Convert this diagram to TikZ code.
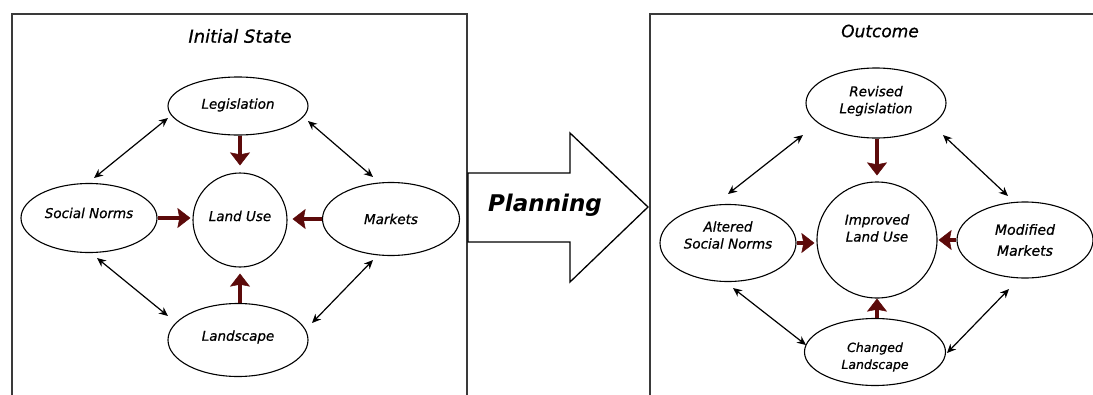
\documentclass[tikz,border=0pt]{standalone}
\usepackage{fontspec}
\setmainfont{DejaVu Sans}
\newfontfamily\lblfont[FakeBold=0.7]{DejaVu Sans}
\usetikzlibrary{shapes.geometric,arrows.meta}
\definecolor{maroonred}{HTML}{5C0A0A}
\definecolor{boxgray}{HTML}{3A3A3A}
\begin{document}
\begin{tikzpicture}[x=1pt,y=-1pt,
  ell/.style={draw, ellipse, line width=1.1pt, inner sep=0pt},
  lab/.style={font=\lblfont\fontsize{13.5}{17}\selectfont\itshape, align=center, inner sep=0pt},
  smalllab/.style={font=\lblfont\fontsize{12.5}{17}\selectfont\itshape, align=center, inner sep=0pt},
  redarr/.style={draw=maroonred, line width=3.5pt, -{Stealth[length=13pt,width=20pt,inset=2pt,line width=0.5pt]}},
  dblarr/.style={line width=1.2pt, {Stealth[length=9pt,width=8pt]}-{Stealth[length=9pt,width=8pt]}},
  ttl/.style={font=\lblfont\fontsize{17}{20}\selectfont\itshape, inner sep=0pt}
]
\useasboundingbox (0,0) rectangle (1093,394);
% frames
\draw[boxgray, line width=1.8pt] (12,400) -- (12,14) -- (467,14) -- (467,400);
\draw[boxgray, line width=1.8pt] (650,400) -- (650,14) -- (1100,14);

% ---------- left: initial state ----------
\node[ttl, font=\lblfont\fontsize{18}{20}\selectfont\itshape] (t1) at (240,36) {Initial State};
\node[ell, minimum width=140pt, minimum height=58pt, label={[lab,yshift=1pt]center:Legislation}] (leg) at (238,106) {};
\node[ell, circle, minimum size=94pt, label={[lab,yshift=4pt]center:Land Use}] (lu) at (240,220) {};
\node[ell, minimum width=136pt, minimum height=69pt, label={[lab,yshift=5pt]center:Social Norms}] (soc) at (89,218) {};
\node[ell, minimum width=137pt, minimum height=73pt, label={[lab,yshift=0pt]center:Markets}] (mkt) at (391,219) {};
\node[ell, minimum width=140pt, minimum height=73pt, label={[lab,yshift=3pt]center:Landscape}] (lsc) at (238,340) {};

\draw[redarr, shorten >=7pt] (leg.south -| lu.north) -- (lu.north);
\draw[redarr, shorten >=2pt] (soc.east) -- (soc.east -| lu.west);
\draw[redarr, shorten >=5pt] (mkt.west) -- (mkt.west -| lu.east);
\draw[redarr, shorten >=6pt] (lsc.north -| lu.south) -- (lu.south);

\draw[dblarr] ([shift={(-70,12)}]leg.center) -- ([shift={(5,-40)}]soc.center);
\draw[dblarr] ([shift={(70,15)}]leg.center) -- ([shift={(-18,-42)}]mkt.center);
\draw[dblarr] ([shift={(8,40)}]soc.center) -- ([shift={(-70,-24)}]lsc.center);
\draw[dblarr] ([shift={(-18,41)}]mkt.center) -- ([shift={(74,-17)}]lsc.center);

% ---------- planning arrow ----------
\draw[line width=1.3pt, fill=white] (468,173) -- (570,173) -- (570,133) -- (648,207) -- (570,282) -- (570,242) -- (468,242) -- cycle;
\node[font=\fontsize{23}{26}\selectfont\bfseries\itshape, inner sep=0pt] (plan) at (545,205) {Planning};

% ---------- right: outcome ----------
\node[ttl] (t2) at (880,31) {Outcome};
\node[ell, minimum width=140pt, minimum height=70pt, label={[lab,yshift=2pt]center:Revised\\Legislation}] (rleg) at (876,103) {};
\node[ell, minimum width=120pt, minimum height=116pt, label={[lab,yshift=12pt]center:Improved\\Land Use}] (ilu) at (877,240) {};
\node[ell, minimum width=136pt, minimum height=77pt, label={[lab,yshift=8pt]center:Altered\\Social Norms}] (asn) at (728,243) {};
\node[ell, minimum width=136pt, minimum height=76pt, label={[lab,yshift=0pt,font=\lblfont\fontsize{14}{21}\selectfont\itshape]center:Modified\\Markets}] (mm) at (1025,240) {};
\node[ell, minimum width=141pt, minimum height=67pt, label={[smalllab,yshift=-5pt]center:Changed\\Landscape}] (cl) at (875,352) {};

\draw[redarr, shorten >=6pt] (rleg.south -| ilu.north) -- (ilu.north);
\draw[redarr, shorten >=2pt] (asn.east) -- (asn.east -| ilu.west);
\draw[redarr, shorten >=1pt] (mm.west) -- (mm.west -| ilu.east);
\draw[redarr, shorten >=0pt] (cl.north -| ilu.south) -- (ilu.south);

\draw[dblarr] ([shift={(-73,32)}]rleg.center) -- ([shift={(0,-49)}]asn.center);
\draw[dblarr] ([shift={(67,32)}]rleg.center) -- ([shift={(-17,-44)}]mm.center);
\draw[dblarr] ([shift={(5,45)}]asn.center) -- ([shift={(-69,-7)}]cl.center);
\draw[dblarr] ([shift={(-16,49)}]mm.center) -- ([shift={(72,1)}]cl.center);
\end{tikzpicture}
\end{document}
